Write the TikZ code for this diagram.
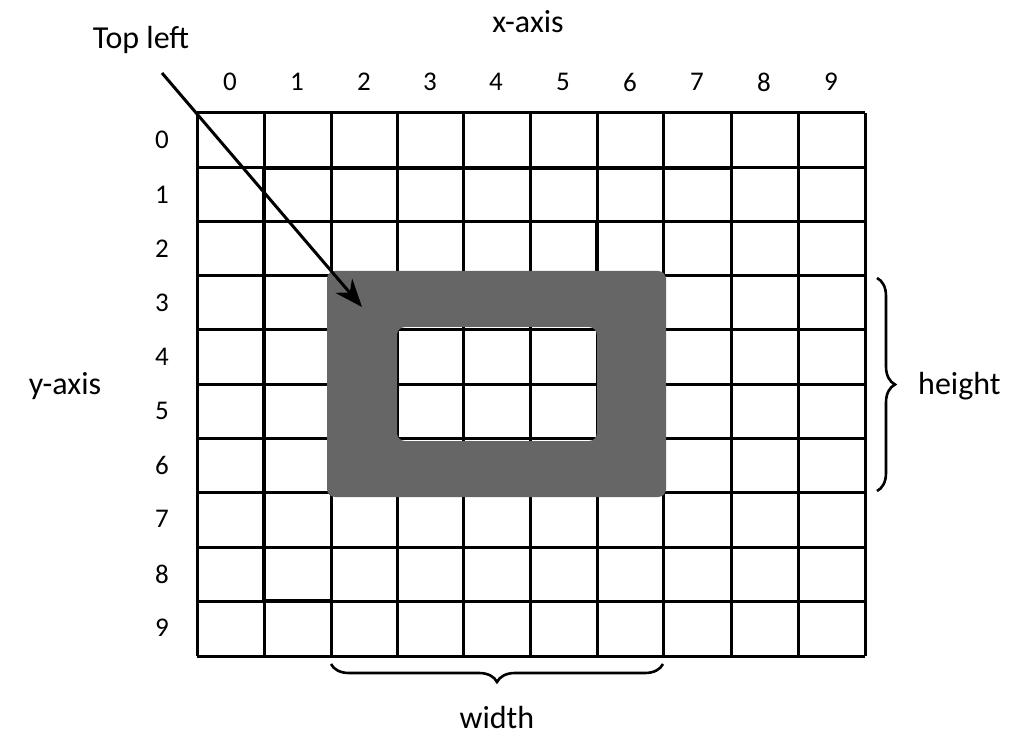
\documentclass[tikz,border=0pt]{standalone}
\usepackage{fontspec}
\setmainfont{Carlito}
\usetikzlibrary{decorations.pathreplacing,arrows.meta}
\definecolor{ringgray}{RGB}{102,102,102}
\tikzset{
  gridline/.style={line width=3pt, black},
  lbl/.style={font=\fontsize{32}{34}\selectfont, inner sep=0pt},
  num/.style={font=\fontsize{27}{29}\selectfont, inner sep=0pt},
  bracestyle/.style={decorate, decoration={brace, amplitude=18pt}, line width=2.6pt},
  pointer/.style={line width=3pt, -{Stealth[length=28pt,width=22pt]}}
}
\begin{document}
\begin{tikzpicture}[x=1pt,y=-1pt]
\useasboundingbox (0,0) rectangle (1023,743);
\fill[white] (0,0) rectangle (1023,743);
% grid
\foreach \x in {197,264,331,397,463,530,597,663,731,798,865}
  \draw[gridline] (\x,113) -- (\x,656);
\foreach \y in {113,168,222,276,330,384,438,492,547,601,656}
  \draw[gridline] (197,\y) -- (865,\y);
\draw[line width=3.8pt] (597,222) -- (597,276) -- (663,276);
\draw[line width=3.6pt] (264,168) -- (731,168);
\draw[line width=3.6pt] (264,168) -- (264,601) -- (331,601);
% gray ring
\fill[ringgray, even odd rule, rounded corners=8pt]
  (327,271) rectangle (666,497)
  (397,327) rectangle (597,441);
% labels
\foreach \k/\x in {0/230,1/297,2/364,3/430,4/496,5/563,6/630,7/697,8/764,9/831}
  \node[num] (c\k) at (\x,82) {\k};
\foreach \k/\y in {0/140,1/195,2/249,3/303,4/357,5/411,6/465,7/519,8/574,9/628}
  \node[num] (r\k) at (162,\y) {\k};
\node[lbl] (xaxis) at (528,22) {x-axis};
\node[lbl] (yaxis) at (65,386) {y-axis};
\node[lbl] (topleft) at (141,40) {Top left};
\node[lbl, anchor=west] (height) at (918,386) {height};
\node[lbl] (width) at (497,718) {width};
% arrow
\coordinate (tipstart) at (162,73);
\coordinate (tip) at (362,307);
\draw[pointer] (tipstart) -- (tip);
% braces
\draw[bracestyle] (877,278) -- (877,491);
\draw[bracestyle] (663,664) -- (331,664);
\end{tikzpicture}
\end{document}
